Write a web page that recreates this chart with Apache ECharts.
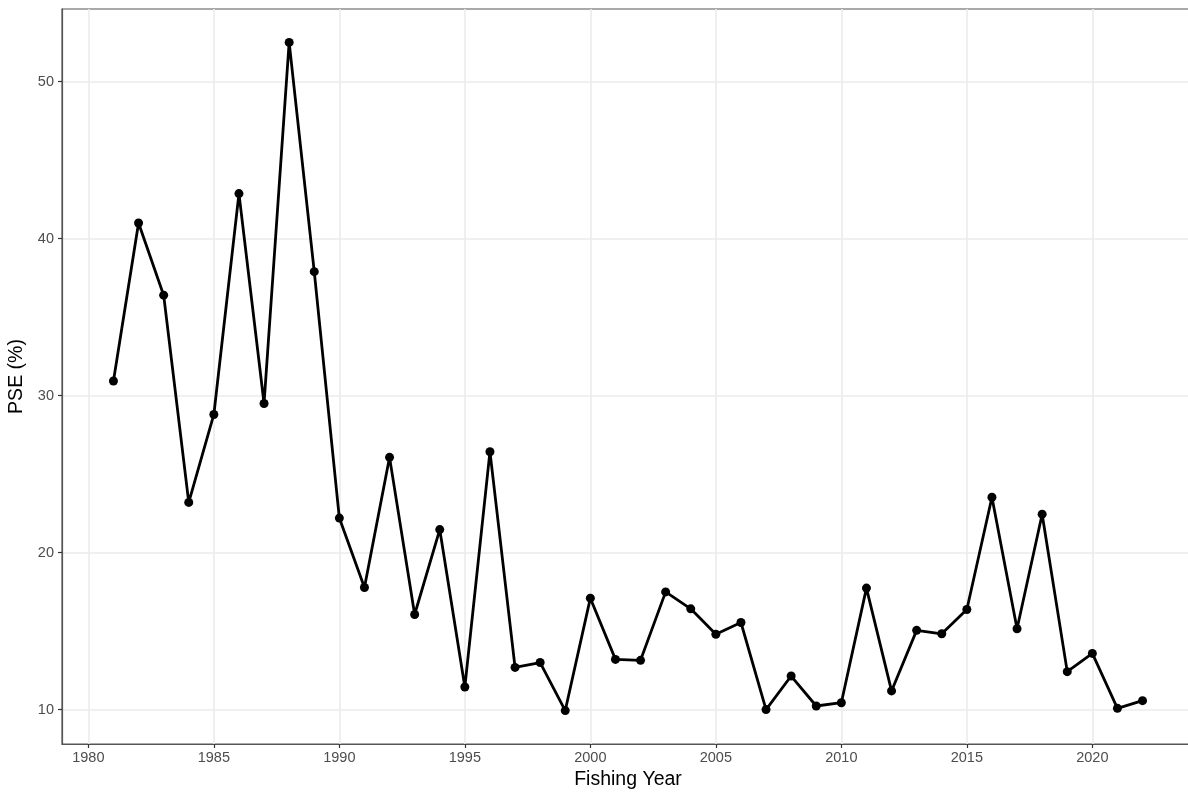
<!DOCTYPE html>
<html>
<head>
<meta charset="utf-8">
<script src="https://cdn.jsdelivr.net/npm/echarts@6/dist/echarts.min.js"></script>
<style>
html,body{margin:0;padding:0;background:#fff;}
#chart{width:1188px;height:792px;}
</style>
</head>
<body>
<div id="chart"></div>
<script>
const years = [1981,1982,1983,1984,1985,1986,1987,1988,1989,1990,1991,1992,1993,1994,1995,1996,1997,1998,1999,2000,2001,2002,2003,2004,2005,2006,2007,2008,2009,2010,2011,2012,2013,2014,2015,2016,2017,2018,2019,2020,2021,2022];
const pse = [30.93,41.0,36.4,23.2,28.8,42.87,29.5,52.5,37.9,22.2,17.78,26.07,16.06,21.47,11.44,26.43,12.69,13.0,9.94,17.1,13.2,13.14,17.5,16.42,14.8,15.55,10.0,12.14,10.23,10.44,17.74,11.19,15.05,14.83,16.38,23.53,15.15,22.45,12.42,13.58,10.08,10.57];
const xTicks = [1980,1985,1990,1995,2000,2005,2010,2015,2020];
const yTicks = [10,20,30,40,50];

const font = 'Liberation Sans, Arial, Helvetica, sans-serif';
const chart = echarts.init(document.getElementById('chart'), null, {renderer:'canvas'});
chart.setOption({
  animation:false,
  backgroundColor:'#ffffff',
  grid:{left:62, top:9, bottom:48, right:-6, show:true, borderColor:'#555555', borderWidth:1.2, backgroundColor:'#ffffff', outerBoundsMode:'none', containLabel:false},
  xAxis:{
    type:'value', min:1978.95, max:2024.05,
    name:'Fishing Year', nameLocation:'middle', nameGap:22,
    nameTextStyle:{fontFamily:font, fontSize:19.5, color:'#000'},
    axisLine:{show:true, lineStyle:{color:'#555555', width:1.2}},
    axisTick:{show:true, length:4, lineStyle:{color:'#333333', width:1.2}, customValues:xTicks},
    axisLabel:{customValues:xTicks, fontFamily:font, fontSize:14.5, color:'#4d4d4d', margin:6, formatter:v=>String(v)},
    splitLine:{show:true, lineStyle:{color:'#ebebeb', width:1.6}},
    minorSplitLine:{show:false}
  },
  yAxis:{
    type:'value', min:7.81, max:54.63,
    name:'PSE (%)', nameLocation:'middle', nameGap:22,
    nameTextStyle:{fontFamily:font, fontSize:19.5, color:'#000'},
    axisLine:{show:true, lineStyle:{color:'#555555', width:1.2}},
    axisTick:{show:true, length:4, lineStyle:{color:'#333333', width:1.2}, customValues:yTicks},
    axisLabel:{customValues:yTicks, fontFamily:font, fontSize:14.5, color:'#4d4d4d', margin:8, formatter:v=>String(v)},
    splitLine:{show:true, lineStyle:{color:'#ebebeb', width:1.6}}
  },
  series:[{
    type:'line',
    data: years.map((y,i)=>[y, pse[i]]),
    symbol:'circle', symbolSize:9,
    itemStyle:{color:'#000'},
    lineStyle:{color:'#000', width:2.8},
    showSymbol:true
  }]
});
</script>
</body>
</html>
